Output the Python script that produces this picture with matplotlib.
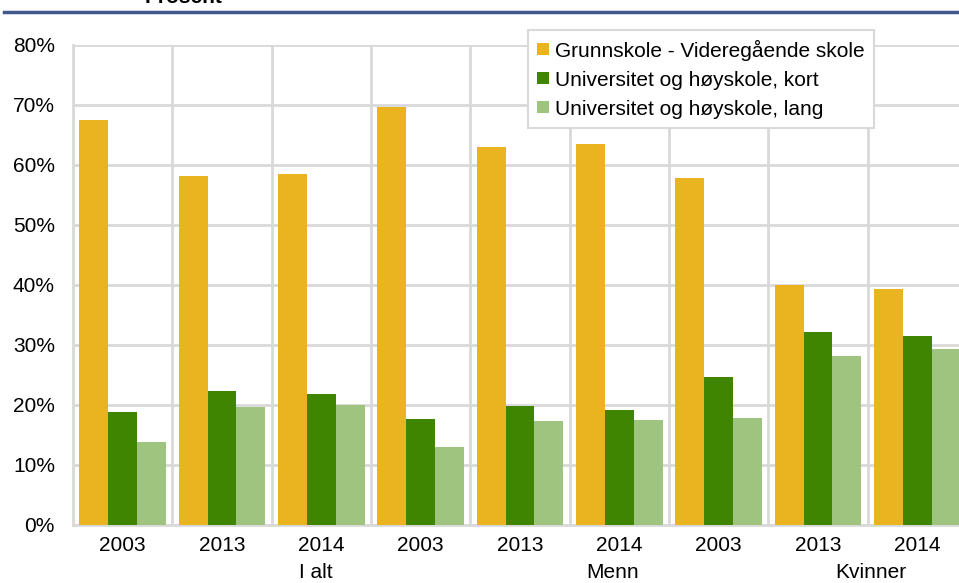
import matplotlib.pyplot as plt
import numpy as np
from matplotlib.lines import Line2D

plt.rcParams["font.family"] = ["Liberation Sans", "DejaVu Sans"]

years = ["2003", "2013", "2014", "2003", "2013", "2014", "2003", "2013", "2014"]
groups = ["I alt", "Menn", "Kvinner"]
series_names = [
    "Grunnskole - Videregående skole",
    "Universitet og høyskole, kort",
    "Universitet og høyskole, lang",
]
grunnskole = [67.5, 58.2, 58.5, 69.7, 63.0, 63.5, 57.8, 40.0, 39.3]
uni_kort = [18.8, 22.3, 21.8, 17.7, 19.8, 19.2, 24.7, 32.2, 31.5]
uni_lang = [13.8, 19.7, 20.0, 13.0, 17.3, 17.5, 17.8, 28.2, 29.3]

colors = ["#eab320", "#3f8502", "#9fc47f"]
grid_color = "#d9d9d9"

fig = plt.figure(figsize=(9.59, 5.83), dpi=100)
ax = fig.add_axes([73 / 959, 58 / 583, 894 / 959, 480 / 583])

x = np.arange(len(years))
width = 0.29
for k, (vals, col) in enumerate(zip([grunnskole, uni_kort, uni_lang], colors)):
    ax.bar(x + (k - 1) * width, vals, width, color=col, zorder=3, label=series_names[k])

ax.set_xlim(-0.5, len(years) - 0.5)
ax.set_ylim(0, 80)
ax.set_yticks(np.arange(0, 81, 10))
ax.set_yticklabels([f"{v}%" for v in range(0, 81, 10)], fontsize=15)
ax.set_xticks(x)
ax.set_xticklabels(years, fontsize=15)
ax.set_xticks(np.arange(-0.5, len(years)), minor=True)
ax.tick_params(axis="both", which="both", length=0)
ax.tick_params(axis="y", pad=13)
ax.tick_params(axis="x", pad=8)

ax.grid(axis="y", color=grid_color, linewidth=2, zorder=0)
ax.grid(axis="x", which="minor", color=grid_color, linewidth=2, zorder=0)
ax.grid(axis="x", which="major", visible=False)
for side in ["top", "right"]:
    ax.spines[side].set_visible(False)
for side in ["left", "bottom"]:
    ax.spines[side].set_color(grid_color)
    ax.spines[side].set_linewidth(2)

# group labels under the years
for name, xpos in zip(groups, [1.94, 4.93, 7.53]):
    ax.text(xpos, -0.099, name, transform=ax.get_xaxis_transform(),
            ha="center", va="center", fontsize=15)

leg = ax.legend(loc="upper left", bbox_to_anchor=(0.509, 1.031), fontsize=15,
                frameon=True, fancybox=False, edgecolor=grid_color, framealpha=1,
                handlelength=0.55, handleheight=0.55, handletextpad=0.3,
                borderpad=0.45, labelspacing=0.48, borderaxespad=0)
leg.get_frame().set_linewidth(1.5)
leg.set_zorder(5)

# header rule and cropped title
fig.add_artist(Line2D([4 / 959, 1], [1 - 12 / 583] * 2, color="#41598b", linewidth=2.5))
fig.text(145 / 959, 1 - 3 / 583, "Prosent", fontsize=15, fontweight="bold",
         ha="left", va="baseline")

fig.savefig("out.png", dpi=100)
